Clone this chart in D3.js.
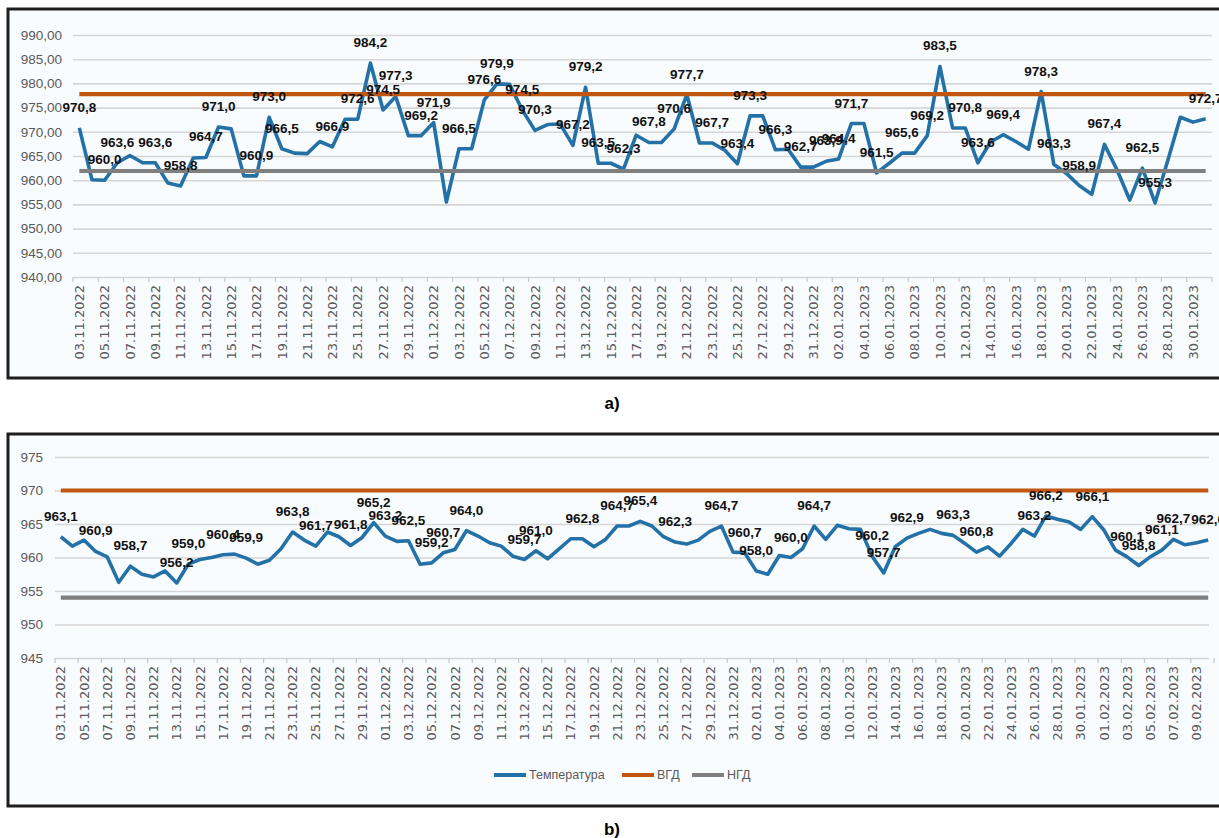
<!DOCTYPE html>
<html>
<head>
<meta charset="utf-8">
<script src="https://cdn.jsdelivr.net/npm/d3@7"></script>
<style>
    body { margin: 0; background: #fff; }
    svg { display: block; font-family: "Liberation Sans", Arial, sans-serif; }
</style>
</head>
<body>
<svg id="chart" width="1219" height="838"></svg>
<script>
'use strict';

// Categories: one point per day
const fmtDate = d3.timeFormat("%d.%m.%Y");
const datesA = d3.timeDay.range(new Date(2022, 10, 3), new Date(2023, 1, 1)).map(fmtDate);
const datesB = d3.timeDay.range(new Date(2022, 10, 3), new Date(2023, 1, 11)).map(fmtDate);

// a) values
const tempA = [970.8, 960.1, 960.0, 963.6, 965.1, 963.6, 963.6, 959.4, 958.8, 964.6,
    964.7, 971.0, 970.6, 960.9, 960.9, 973.0, 966.5, 965.6, 965.5, 968.0,
    966.9, 972.6, 972.6, 984.2, 974.5, 977.3, 969.2, 969.2, 971.9, 955.5,
    966.5, 966.5, 976.6, 979.9, 979.8, 974.5, 970.3, 971.5, 971.6, 967.2,
    979.2, 963.5, 963.5, 962.3, 969.3, 967.8, 967.8, 970.6, 977.7, 967.7,
    967.7, 966.2, 963.4, 973.3, 973.3, 966.3, 966.4, 962.7, 962.7, 963.9,
    964.4, 971.7, 971.7, 961.5, 963.5, 965.6, 965.6, 969.2, 983.5, 970.8,
    970.8, 963.6, 967.9, 969.4, 968.0, 966.4, 978.3, 963.3, 961.4, 958.9,
    957.1, 967.4, 962.1, 955.9, 962.5, 955.3, 964.0, 973.0, 972.0, 972.7];
const labelsA = [0, 2, 3, 6, 8, 10, 11, 14, 15, 16, 20, 22, 23, 24, 25, 27, 28, 30, 32, 33,
    35, 36, 39, 40, 41, 43, 45, 47, 48, 50, 52, 53, 55, 57, 59, 60, 61, 63, 65, 67,
    68, 70, 71, 73, 76, 77, 79, 81, 84, 85, 89];
const vgdA = 977.8;
const ngdA = 961.9;
const yTicksA = [940, 945, 950, 955, 960, 965, 970, 975, 980, 985, 990];

// b) values
const tempB = [963.1, 961.7, 962.6, 960.9, 960.1, 956.3, 958.7, 957.5, 957.1, 958.0,
    956.2, 959.0, 959.7, 960.0, 960.4, 960.5, 959.9, 959.0, 959.6, 961.3,
    963.8, 962.6, 961.7, 963.8, 963.1, 961.8, 963.0, 965.2, 963.2, 962.4,
    962.5, 959.0, 959.2, 960.7, 961.2, 964.0, 963.2, 962.2, 961.7, 960.2,
    959.7, 961.0, 959.8, 961.3, 962.8, 962.8, 961.6, 962.7, 964.7, 964.7,
    965.4, 964.7, 963.1, 962.3, 962.0, 962.6, 963.9, 964.7, 960.8, 960.7,
    958.0, 957.5, 960.3, 960.0, 961.3, 964.7, 962.7, 964.8, 964.3, 964.2,
    960.2, 957.7, 961.6, 962.9, 963.6, 964.2, 963.6, 963.3, 962.1, 960.8,
    961.6, 960.2, 962.1, 964.2, 963.2, 966.2, 965.7, 965.3, 964.2, 966.1,
    964.1, 961.1, 960.1, 958.8, 960.1, 961.1, 962.7, 961.9, 962.2, 962.6];
const labelsB = [0, 3, 6, 10, 11, 14, 16, 20, 22, 25, 27, 28, 30, 32, 33, 35, 40, 41, 45, 48,
    50, 53, 57, 59, 60, 63, 65, 70, 71, 73, 77, 79, 84, 85, 89, 92, 93, 95, 96, 99];
const vgdB = 970;
const ngdB = 954;
const yTicksB = [945, 950, 955, 960, 965, 970, 975];

const seriesNames = ["Температура", "ВГД", "НГД"];
const seriesColors = ["#2471a8", "#c0560f", "#7f7f7f"];

const locale = d3.formatLocale({decimal: ",", thousands: " ", grouping: [3], currency: ["", ""]});
const fmt1 = locale.format(".1f");

const svg = d3.select("#chart");

/**
 * Dessiner un panneau (cadre, grille, axes, séries, étiquettes)
 * @param {*} cfg
 */
function drawPanel(cfg) {
    const g = svg.append("g");

    // cadre
    g.append("rect")
        .attr("x", 8).attr("y", cfg.frameTop)
        .attr("width", 1225).attr("height", cfg.frameBottom - cfg.frameTop)
        .attr("fill", "#f9fcfe")
        .attr("stroke", "#1e1e1e")
        .attr("stroke-width", 3);

    const x = d3.scaleBand().domain(cfg.dates).range([cfg.left, cfg.right]);
    const cx = d => x(d) + x.bandwidth() / 2;
    const y = d3.scaleLinear().domain([cfg.yTicks[0], cfg.yTicks[cfg.yTicks.length - 1]])
        .range([cfg.bottom, cfg.top]);

    // grille + axe Y
    const yAxis = g.append("g")
        .attr("transform", `translate(${cfg.left},0)`)
        .call(d3.axisLeft(y).tickValues(cfg.yTicks)
            .tickSize(-(cfg.gridRight - cfg.left))
            .tickPadding(cfg.yPad)
            .tickFormat(cfg.yFormat));
    yAxis.select(".domain").remove();
    yAxis.selectAll(".tick line").attr("stroke", "#d6d6d6").attr("stroke-width", 1.6);
    yAxis.selectAll(".tick text")
        .attr("fill", "#595959")
        .style("font-size", "13.5px");

    // axe X : une étiquette sur deux
    const xAxis = g.append("g")
        .attr("transform", `translate(0,${cfg.bottom})`)
        .call(d3.axisBottom(x).tickValues(cfg.dates.filter((d, i) => i % 2 === 0)).tickSize(0));
    xAxis.select(".domain").remove();
    xAxis.selectAll(".tick text")
        .attr("transform", "rotate(-90)")
        .attr("text-anchor", "end")
        .attr("x", -8).attr("y", 0).attr("dy", "0.36em")
        .attr("fill", "#595959")
        .style("font-family", "'DejaVu Sans', sans-serif")
        .style("font-size", "13px");

    // petites graduations entre les catégories
    g.selectAll(".btick")
        .data(d3.range(0, cfg.dates.length + 1, 2))
        .join("line")
        .attr("x1", i => cfg.left + i * x.step())
        .attr("x2", i => cfg.left + i * x.step())
        .attr("y1", cfg.bottom)
        .attr("y2", cfg.bottom + 5)
        .attr("stroke", "#c8c8c8")
        .attr("stroke-width", 1.2);

    const line = d3.line()
        .x((d, i) => cx(cfg.dates[i]))
        .y(d => y(d));

    // Température
    g.append("path")
        .datum(cfg.temp)
        .attr("fill", "none")
        .attr("stroke", seriesColors[0])
        .attr("stroke-width", 3.6)
        .attr("stroke-linejoin", "round")
        .attr("d", line);

    // ВГД et НГД
    [cfg.vgd, cfg.ngd].forEach((v, k) => {
        g.append("path")
            .datum(cfg.dates.map(() => v))
            .attr("fill", "none")
            .attr("stroke", seriesColors[k + 1])
            .attr("stroke-width", 4.2)
            .attr("d", line);
    });

    // étiquettes de données
    g.selectAll(".lbl")
        .data(cfg.labels)
        .join("text")
        .attr("x", i => cx(cfg.dates[i]))
        .attr("y", i => y(cfg.temp[i]) - 16)
        .attr("text-anchor", "middle")
        .attr("fill", "#111")
        .style("font-size", "13.5px")
        .style("font-weight", "bold")
        .text(i => fmt1(cfg.temp[i]));

    return g;
}

drawPanel({
    frameTop: 9, frameBottom: 378,
    left: 73, right: 1212, gridRight: 1212,
    top: 35, bottom: 277,
    yPad: 11,
    yFormat: locale.format(".2f"),
    dates: datesA, temp: tempA, labels: labelsA,
    vgd: vgdA, ngd: ngdA, yTicks: yTicksA
});

const panelB = drawPanel({
    frameTop: 434, frameBottom: 806,
    left: 55, right: 1214, gridRight: 1209,
    top: 457, bottom: 658,
    yPad: 12,
    yFormat: locale.format("d"),
    dates: datesB, temp: tempB, labels: labelsB,
    vgd: vgdB, ngd: ngdB, yTicks: yTicksB
});

// légende (panneau b seulement)
const legendX = [494, 622, 692];
const legend = panelB.selectAll(".leg")
    .data(seriesNames)
    .join("g")
    .attr("transform", (d, i) => `translate(${legendX[i]},775)`);
legend.append("line")
    .attr("x1", 0).attr("x2", 32)
    .attr("stroke", (d, i) => seriesColors[i])
    .attr("stroke-width", 4);
legend.append("text")
    .attr("x", 35).attr("dy", "0.35em")
    .attr("fill", "#595959")
    .style("font-size", "12.5px")
    .text(d => d);

// légendes a) et b)
svg.selectAll(".caption")
    .data([["a)", 403], ["b)", 829]])
    .join("text")
    .attr("x", 612).attr("y", d => d[1])
    .attr("text-anchor", "middle")
    .attr("dy", "0.35em")
    .style("font-size", "17px")
    .style("font-weight", "bold")
    .text(d => d[0]);
</script>
</body>
</html>
